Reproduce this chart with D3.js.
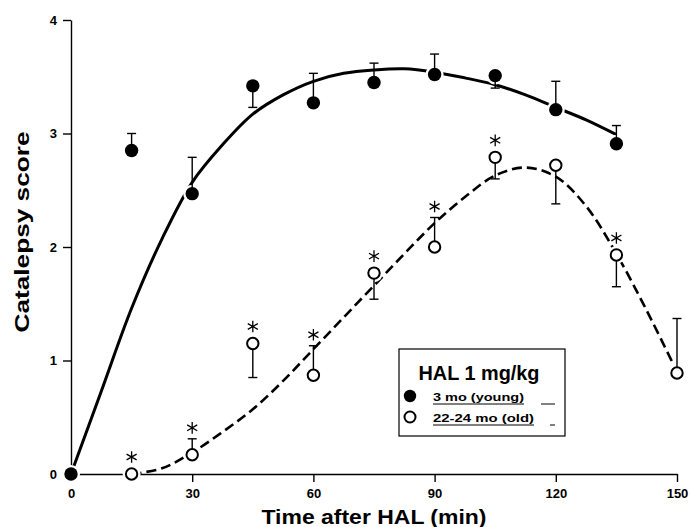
<!DOCTYPE html>
<html>
<head>
<meta charset="utf-8">
<script src="https://cdn.jsdelivr.net/npm/d3@7"></script>
<style>
  body { margin: 0; background: #fff; }
  svg { display: block; }
  text { font-family: "Liberation Sans", Arial, sans-serif; fill: #000; }
</style>
</head>
<body>
<svg id="chart" width="690" height="527"></svg>
<script>
// time points (min after HAL)
const youngTimes = [0, 15, 30, 45, 60, 75, 90, 105, 120, 135]
const oldTimes = [15, 30, 45, 60, 75, 90, 105, 120, 135, 150]

// mean catalepsy score, and the one-sided error bar (sign = direction drawn)
const youngMean = [0, 2.85, 2.47, 3.42, 3.27, 3.45, 3.52, 3.51, 3.21, 2.91]
const youngErr = [0, 0.15, 0.32, -0.19, 0.26, 0.17, 0.18, -0.11, 0.25, 0.16]
const oldMean = [0, 0.17, 1.15, 0.87, 1.77, 2.00, 2.79, 2.72, 1.93, 0.89]
const oldErr = [0, 0.14, -0.30, 0.26, -0.23, 0.26, -0.19, -0.34, -0.28, 0.48]
// significant difference marker (*) for the old group
const oldSig = [1, 1, 1, 1, 1, 1, 1, 0, 1, 0]

// fitted curves
const youngFitT = [0, 7.5, 15, 22.5, 30, 37.5, 45, 52.5, 60, 67.5, 75, 82.5, 90, 97.5, 105, 112.5, 120, 127.5, 135]
const youngFitV = [0, 0.73, 1.46, 2.07, 2.57, 2.90, 3.17, 3.34, 3.46, 3.53, 3.56, 3.57, 3.54, 3.49, 3.43, 3.34, 3.23, 3.12, 2.99]
const oldFitT = [15, 22.5, 30, 37.5, 45, 52.5, 60, 67.5, 75, 82.5, 90, 97.5, 105, 112.5, 120, 127.5, 135, 142.5, 150]
const oldFitV = [0, 0.05, 0.19, 0.37, 0.57, 0.82, 1.10, 1.38, 1.66, 1.94, 2.21, 2.44, 2.63, 2.70, 2.62, 2.36, 1.94, 1.44, 0.90]

const xTicks = [0, 30, 60, 90, 120, 150]
const yTicks = [0, 1, 2, 3, 4]
const legendTitle = 'HAL 1 mg/kg'
const legendLabels = ['3 mo (young)', '22-24 mo (old)']

const svg = d3.select('#chart')

const x = d3.scaleLinear().domain([0, 150]).range([71, 677])
const y = d3.scaleLinear().domain([0, 4]).range([474, 20])

// axes
svg.append('g')
  .attr('transform', 'translate(0,' + y(0) + ')')
  .call(d3.axisBottom(x).tickValues(xTicks).tickFormat(d3.format('d'))
    .tickSize(8).tickSizeOuter(0).tickPadding(7))
svg.append('g')
  .attr('transform', 'translate(' + x(0) + ',0)')
  .call(d3.axisLeft(y).tickValues(yTicks).tickFormat(d3.format('d'))
    .tickSize(8).tickSizeOuter(0).tickPadding(6))

svg.selectAll('.domain, .tick line').attr('stroke', '#000').attr('stroke-width', 1.4)
svg.selectAll('.tick text')
  .style('font-size', '13px').style('font-weight', 'bold')
  .attr('font-family', null)

// axis titles
svg.append('text')
  .attr('x', 374).attr('y', 524)
  .attr('text-anchor', 'middle')
  .attr('textLength', 225).attr('lengthAdjust', 'spacingAndGlyphs')
  .style('font-size', '20px').style('font-weight', 'bold')
  .text('Time after HAL (min)')

svg.append('text')
  .attr('transform', 'translate(29,232) rotate(-90)')
  .attr('text-anchor', 'middle')
  .attr('textLength', 201).attr('lengthAdjust', 'spacingAndGlyphs')
  .style('font-size', '21px').style('font-weight', 'bold')
  .text('Catalepsy score')

// fitted lines
const line = d3.line().x(d => x(d[0])).y(d => y(d[1])).curve(d3.curveCatmullRom)

svg.append('path')
  .datum(d3.zip(youngFitT, youngFitV))
  .attr('d', line)
  .attr('fill', 'none').attr('stroke', '#000').attr('stroke-width', 3)

svg.append('path')
  .datum(d3.zip(oldFitT, oldFitV))
  .attr('d', line)
  .attr('fill', 'none').attr('stroke', '#000').attr('stroke-width', 2.6)
  .attr('stroke-dasharray', '10,5')

const young = youngTimes.map((t, i) => ({t, v: youngMean[i], e: youngErr[i]}))
const old = oldTimes.map((t, i) => ({t, v: oldMean[i], e: oldErr[i], sig: oldSig[i]}))
const all = young.concat(old)

// white halo so the curves break around the markers
svg.append('g').selectAll('circle')
  .data(all)
  .join('circle')
    .attr('cx', d => x(d.t)).attr('cy', d => y(d.v))
    .attr('r', 9).attr('fill', '#fff')

// error bars
const eb = svg.append('g').attr('stroke', '#000').attr('stroke-width', 1.4)
eb.selectAll('line.v')
  .data(all.filter(d => d.e !== 0))
  .join('line')
    .attr('x1', d => x(d.t)).attr('x2', d => x(d.t))
    .attr('y1', d => y(d.v)).attr('y2', d => y(d.v + d.e))
eb.selectAll('line.c')
  .data(all.filter(d => d.e !== 0))
  .join('line')
    .attr('x1', d => x(d.t) - 4.5).attr('x2', d => x(d.t) + 4.5)
    .attr('y1', d => y(d.v + d.e)).attr('y2', d => y(d.v + d.e))

// markers
svg.append('g').selectAll('circle')
  .data(young)
  .join('circle')
    .attr('cx', d => x(d.t)).attr('cy', d => y(d.v))
    .attr('r', 6.7).attr('fill', '#000')

svg.append('g').selectAll('circle')
  .data(old)
  .join('circle')
    .attr('cx', d => x(d.t)).attr('cy', d => y(d.v))
    .attr('r', 5.7).attr('fill', '#fff').attr('stroke', '#000').attr('stroke-width', 2)

// significance asterisks, placed above the circle or the error bar cap
const star = d3.symbol().type(d3.symbolAsterisk).size(95)
svg.append('g').selectAll('path')
  .data(old.filter(d => d.sig))
  .join('path')
    .attr('transform', d => {
      const top = Math.min(y(d.v) - 6, y(d.v + Math.max(d.e, 0)))
      return 'translate(' + x(d.t) + ',' + (top - 11) + ')'
    })
    .attr('d', star)
    .attr('fill', 'none').attr('stroke', '#000').attr('stroke-width', 1.3)

// legend
const lg = svg.append('g')
lg.append('rect')
  .attr('x', 399).attr('y', 349).attr('width', 166).attr('height', 87)
  .attr('fill', '#fff').attr('stroke', '#000').attr('stroke-width', 1.2)
lg.append('text')
  .attr('x', 479).attr('y', 380)
  .attr('text-anchor', 'middle')
  .attr('textLength', 121).attr('lengthAdjust', 'spacingAndGlyphs')
  .style('font-size', '20px').style('font-weight', 'bold')
  .text(legendTitle)

const rowY = [396, 417]
const rowW = [91, 101]
lg.append('circle').attr('cx', 410).attr('cy', rowY[0]).attr('r', 6.2).attr('fill', '#000')
lg.append('circle').attr('cx', 410).attr('cy', rowY[1]).attr('r', 5.5)
  .attr('fill', '#fff').attr('stroke', '#000').attr('stroke-width', 2)

legendLabels.forEach((lab, i) => {
  lg.append('text')
    .attr('x', 433).attr('y', rowY[i] + 5)
    .attr('textLength', rowW[i]).attr('lengthAdjust', 'spacingAndGlyphs')
    .style('font-size', '11.5px').style('font-weight', 'bold')
    .text(lab)
  lg.append('line')
    .attr('x1', 433).attr('x2', 433 + rowW[i])
    .attr('y1', rowY[i] + 8).attr('y2', rowY[i] + 8)
    .attr('stroke', '#000').attr('stroke-width', 1)
  lg.append('line')
    .attr('x1', 541 + i * 9).attr('x2', 555)
    .attr('y1', rowY[i] + 8).attr('y2', rowY[i] + 8)
    .attr('stroke', '#000').attr('stroke-width', 1)
})
</script>
</body>
</html>
